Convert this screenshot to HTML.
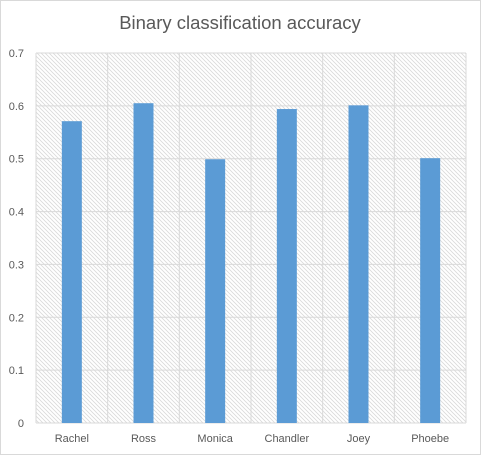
<!DOCTYPE html>
<html><head><meta charset="utf-8"><style>
body{margin:0;background:#fff;}
svg{display:block;font-family:"Liberation Sans",sans-serif;}
</style></head><body>
<svg id="chart" width="481" height="455">
<defs>
<pattern id="hatch" width="4" height="4" patternUnits="userSpaceOnUse">
<path d="M-1,-1 L5,5 M-1,3 L1,5 M3,-1 L5,1" stroke="#d9d9d9" stroke-width="0.8"/>
</pattern>
</defs>
<rect x="0.5" y="0.5" width="480" height="454" fill="#fff" stroke="#d9d9d9"/>
<text x="240" y="29" text-anchor="middle" font-size="18.5" fill="#595959">Binary classification accuracy</text>
<rect x="36" y="53" width="430" height="370" fill="url(#hatch)"/>
<g id="grid"></g><g id="bars"></g><g id="labels"></g>
</svg>
<script>
const categories=["Rachel","Ross","Monica","Chandler","Joey","Phoebe"];
const values=[0.571,0.605,0.499,0.594,0.601,0.501];
const ticks=[0,0.1,0.2,0.3,0.4,0.5,0.6,0.7];
const L=36,R=466,T=53,B=423,maxV=0.7;
const y=v=>B-(v/maxV)*(B-T);
const bw=(R-L)/categories.length;
const x=i=>L+bw*i;
const ns="http://www.w3.org/2000/svg";
function mk(t,a,p){const e=document.createElementNS(ns,t);for(const k in a)e.setAttribute(k,a[k]);document.getElementById(p).appendChild(e);return e;}
ticks.forEach(t=>{
 const l=mk('line',{x1:L,x2:R,y1:y(t),y2:y(t),stroke:'#d9d9d9','stroke-width':1},'grid');
 
 
 const tx=mk('text',{x:24,y:y(t)+4,'text-anchor':'end','font-size':11,fill:'#595959'},'labels');
 tx.textContent=String(t);
 
 
});
for(let i=0;i<=categories.length;i++){
 const l=mk('line',{x1:x(i),x2:x(i),y1:T,y2:B,stroke:'#d9d9d9','stroke-width':1},'grid');
 
 
}
categories.forEach((c,i)=>{
 const cx=x(i)+bw/2;
 const r=mk('rect',{x:cx-10,y:y(values[i]),width:20,height:B-y(values[i]),fill:'#5b9bd5'},'bars');
 
 
 const tx=mk('text',{x:cx,y:442,'text-anchor':'middle','font-size':11,fill:'#595959'},'labels');
 tx.textContent=c;
 
 
});
</script>
</body></html>
